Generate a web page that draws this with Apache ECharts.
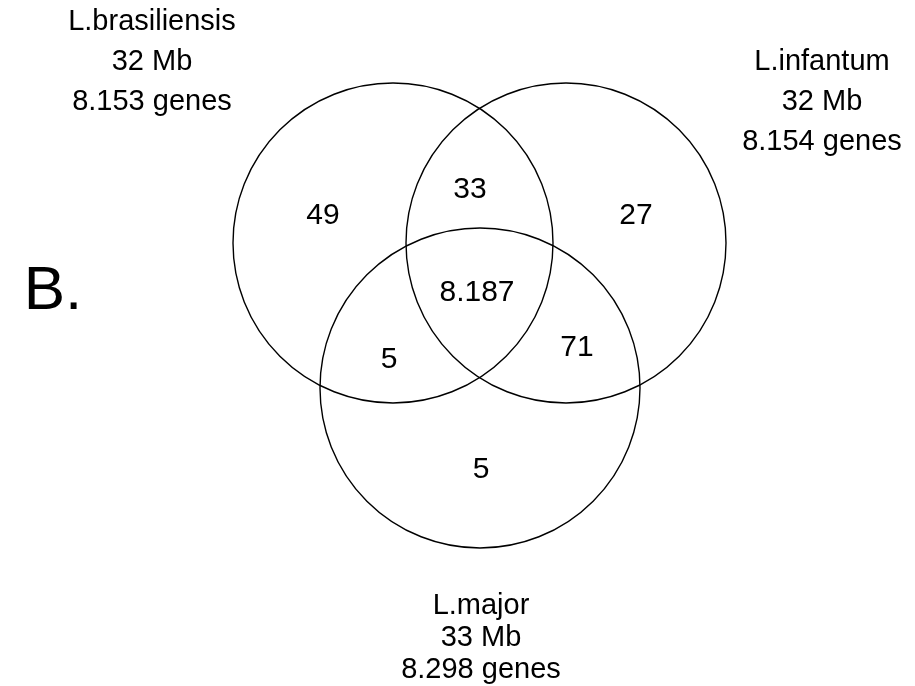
<!DOCTYPE html>
<html>
<head>
<meta charset="utf-8">
<script src="https://cdn.jsdelivr.net/npm/echarts@6/dist/echarts.min.js"></script>
<style>
  html, body { margin: 0; padding: 0; background: #fff; }
  #venn { width: 915px; height: 686px; }
</style>
</head>
<body>
<div id="venn"></div>
<script>
// sets (species) and their descriptions
const setNames = ['L.brasiliensis', 'L.infantum', 'L.major']
const setSizes = ['32 Mb', '32 Mb', '33 Mb']
const setGenes = ['8.153 genes', '8.154 genes', '8.298 genes']

// circles in plot units (x right, y down)
const circleX = [393, 566, 480]
const circleY = [243, 243, 388]
const circleR = [160, 160, 160]

// where each set name block sits (middle line)
const setLabelX = [152, 822, 481]
const setLabelY = [62, 102, 638]
const setLineHeight = [40, 40, 32]

// region counts: only brasiliensis, bras+inf, only infantum, all three, bras+major, inf+major, only major
const regionCounts = ['49', '33', '27', '8.187', '5', '71', '5']
const regionX = [323, 470, 636, 477, 389, 577, 481]
const regionY = [216, 190, 216, 293, 360, 348, 470]

const panelLetter = 'B.'

const font = '"Liberation Sans", Arial, sans-serif'

const chart = echarts.init(document.getElementById('venn'))

const circleData = circleX.map((x, i) => [x, circleY[i], circleR[i]])
const regionData = regionX.map((x, i) => ({ value: [x, regionY[i]], name: regionCounts[i] }))
const setData = setLabelX.map((x, i) => ({
  value: [x, setLabelY[i]],
  name: setNames[i] + '\n' + setSizes[i] + '\n' + setGenes[i],
  label: { lineHeight: setLineHeight[i] }
}))

const textLabel = function (size) {
  return {
    show: true,
    position: 'inside',
    formatter: '{b}',
    color: '#000',
    fontSize: size,
    fontFamily: font
  }
}

chart.setOption({
  animation: false,
  backgroundColor: '#fff',
  grid: { left: 0, right: 0, top: 0, bottom: 0 },
  xAxis: { type: 'value', min: 0, max: 915, show: false },
  yAxis: { type: 'value', min: 0, max: 686, inverse: true, show: false },
  series: [
    {
      type: 'custom',
      data: circleData,
      renderItem: function (params, api) {
        const c = api.coord([api.value(0), api.value(1)])
        const r = api.size([api.value(2), 0])[0]
        return {
          type: 'circle',
          shape: { cx: c[0], cy: c[1], r: r },
          style: { fill: 'none', stroke: '#000', lineWidth: 1.4 }
        }
      }
    },
    {
      type: 'scatter',
      symbolSize: 0,
      itemStyle: { opacity: 1 },
      data: regionData,
      label: textLabel(30)
    },
    {
      type: 'scatter',
      symbolSize: 0,
      itemStyle: { opacity: 1 },
      data: setData,
      label: textLabel(29)
    },
    {
      type: 'scatter',
      symbolSize: 0,
      itemStyle: { opacity: 1 },
      data: [{ value: [53, 292], name: panelLetter }],
      label: textLabel(62)
    }
  ]
})
</script>
</body>
</html>
